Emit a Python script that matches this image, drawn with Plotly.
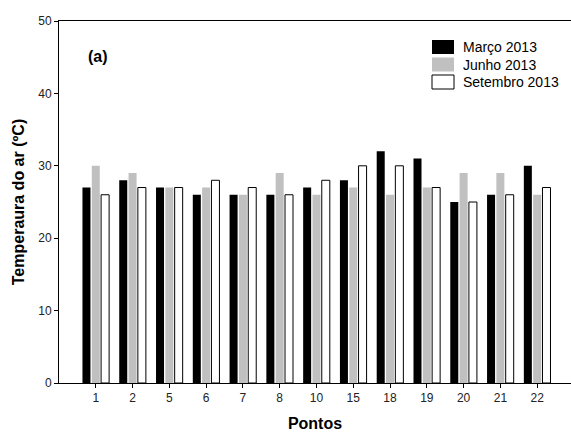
import plotly.graph_objects as go

pontos = ["1", "2", "5", "6", "7", "8", "10", "15", "18", "19", "20", "21", "22"]
marco = [27, 28, 27, 26, 26, 26, 27, 28, 32, 31, 25, 26, 30]
junho = [30, 29, 27, 27, 26, 29, 26, 27, 26, 27, 29, 29, 26]
setembro = [26, 27, 27, 28, 27, 26, 28, 30, 30, 27, 25, 26, 27]
series_names = ["Março 2013", "Junho 2013", "Setembro 2013"]
series_fill = ["black", "#c0c0c0", "white"]
series_edge = ["black", "#c0c0c0", "black"]
y_ticks = [0, 10, 20, 30, 40, 50]

FONT = "Arial, Liberation Sans, sans-serif"

# plot area geometry (pixels)
L, R, T, B = 59, 571, 21, 383
W, H = 571, 432


def px_x(p):
    return (p - L) / (R - L)


def px_y(p):
    return (B - p) / (B - T)


fig = go.Figure()
for name, vals, fill, edge in zip(series_names, [marco, junho, setembro], series_fill, series_edge):
    fig.add_trace(go.Bar(x=pontos, y=vals, name=name, showlegend=False,
                         marker=dict(color=fill,
                                     line=dict(color=edge, width=1 if fill == "white" else 0))))

# custom legend (larger swatches, as in reference)
shapes = []
annotations = []
row_centers = [47, 64.5, 82]
for name, fill, edge, yc in zip(series_names, series_fill, series_edge, row_centers):
    shapes.append(dict(type="rect", xref="paper", yref="paper",
                       x0=px_x(432), x1=px_x(454), y0=px_y(yc + 7), y1=px_y(yc - 7),
                       fillcolor=fill, line=dict(color=edge, width=1 if fill == "white" else 0)))
    annotations.append(dict(text=name, xref="paper", yref="paper", x=px_x(461), y=px_y(yc),
                            xanchor="left", yanchor="middle", showarrow=False,
                            font=dict(family=FONT, size=14, color="black")))

annotations.append(dict(text="<b>(a)</b>", x=px_x(98), y=px_y(57), xref="paper", yref="paper",
                        xanchor="center", yanchor="middle", showarrow=False,
                        font=dict(family=FONT, size=16, color="black")))

fig.update_layout(
    width=W, height=H,
    margin=dict(l=L, r=W - R, t=T, b=H - B),
    paper_bgcolor="white", plot_bgcolor="white",
    barmode="group", bargap=0.24, bargroupgap=0.14,
    font=dict(family=FONT, size=12, color="black"),
    showlegend=False,
    xaxis=dict(type="category", range=[-1, 12.92],
               showline=True, linecolor="black", linewidth=1, mirror=True,
               ticks="outside", ticklen=4, tickcolor="black",
               showgrid=False, zeroline=False,
               tickfont=dict(family=FONT, size=12, color="#222"),
               title=dict(text="<b>Pontos</b>", standoff=15,
                          font=dict(family=FONT, size=16, color="black"))),
    yaxis=dict(range=[0, 50], tickvals=y_ticks,
               showline=True, linecolor="black", linewidth=1,
               ticks="outside", ticklen=4, tickcolor="black",
               showgrid=False, zeroline=False,
               tickfont=dict(family=FONT, size=12, color="#222"),
               title=dict(text="<b>Temperaura do ar (ºC)</b>", standoff=9,
                          font=dict(family=FONT, size=16, color="black"))),
    shapes=shapes,
    annotations=annotations,
)

fig.write_html("out.html")
